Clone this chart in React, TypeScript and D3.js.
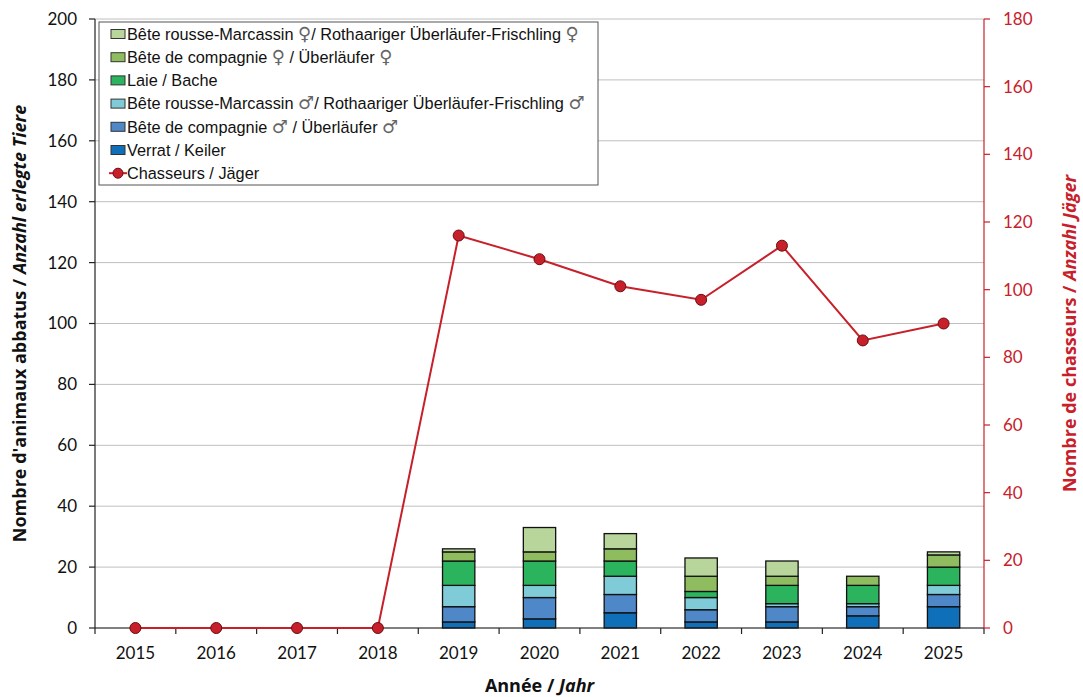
import React from "react";
import * as d3 from "d3";

const years = ["2015","2016","2017","2018","2019","2020","2021","2022","2023","2024","2025"];
const verrat =        [0,0,0,0,2,3,5,2,2,4,7];
const compagnieM =    [0,0,0,0,5,7,6,4,5,3,4];
const rousseM =       [0,0,0,0,7,4,6,4,1,1,3];
const laie =          [0,0,0,0,8,8,5,2,6,6,6];
const compagnieF =    [0,0,0,0,3,3,4,5,3,3,4];
const rousseF =       [0,0,0,0,1,8,5,6,5,0,1];
const chasseurs =     [0,0,0,0,116,109,101,97,113,85,90];

const seriesNames = [
  "Verrat / Keiler",
  "Bête de compagnie ♂ / Überläufer ♂",
  "Bête rousse-Marcassin ♂/ Rothaariger Überläufer-Frischling ♂",
  "Laie / Bache",
  "Bête de compagnie ♀ / Überläufer ♀",
  "Bête rousse-Marcassin ♀/ Rothaariger Überläufer-Frischling ♀",
];
const seriesColors = ["#0F6FB8", "#4F88C8", "#80CBD8", "#2BB35E", "#8FBC5F", "#B8D69B"];
const lineName = "Chasseurs / Jäger";
const leftTicks = [0,20,40,60,80,100,120,140,160,180,200];
const rightTicks = [0,20,40,60,80,100,120,140,160,180];

const W = 1083, H = 697;
const M = { left: 95, right: 984, top: 19, bottom: 628 };
const RED = "#C8202A";

function LegendLabel({ text, font }: { text: string; font: string }) {
  const parts = text.split(/([♀♂])/);
  return (
    <>
      {parts.map((p, i) =>
        p === "♀" || p === "♂" ? (
          <tspan key={i} fontFamily="'DejaVu Sans'" fontSize={18} fill="#666">{p + "\uFE0E"}</tspan>
        ) : (
          <tspan key={i} fontFamily={font}>{p}</tspan>
        )
      )}
    </>
  );
}

export default function App() {
  const x = d3.scaleBand().domain(years).range([M.left, M.right]).paddingInner(0).paddingOuter(0);
  const yL = d3.scaleLinear().domain([0, 200]).range([M.bottom, M.top]);
  const yR = d3.scaleLinear().domain([0, 180]).range([M.bottom, M.top]);
  const allSeries = [verrat, compagnieM, rousseM, laie, compagnieF, rousseF];
  const table = years.map((y, i) => {
    const o: any = { year: y };
    allSeries.forEach((s, k) => (o["s" + k] = s[i]));
    return o;
  });
  const stack = d3.stack().keys(allSeries.map((_, k) => "s" + k))(table as any);
  const bw = x.bandwidth() * 0.4;
  const cx = (y: string) => (x(y) as number) + x.bandwidth() / 2;
  const line = d3.line<number>().x((_, i) => cx(years[i])).y((d) => yR(d));

  const legendItems = [...seriesNames.map((n, k) => ({ n, c: seriesColors[k] })).reverse()];
  const tickFont = "Lato, 'Open Sans', sans-serif";
  const titleFont = "'Open Sans', Lato, sans-serif";
  const legFont = "'Liberation Sans', Arial, sans-serif";

  return (
    <svg width={W} height={H} style={{ position: "absolute", left: 0, top: 0, background: "#fff" }}>
      {leftTicks.map((t) => (
        <line key={"g" + t} x1={M.left} x2={M.right} y1={yL(t)} y2={yL(t)} stroke="#BFBFBF" strokeWidth={1} />
      ))}
      {stack.map((layer, k) => (
        <g key={"l" + k}>
          {layer.map((d, i) =>
            d[1] - d[0] > 0 ? (
              <rect
                key={i}
                x={cx(years[i]) - bw / 2}
                y={yL(d[1])}
                width={bw}
                height={yL(d[0]) - yL(d[1])}
                fill={seriesColors[k]}
                stroke="#111"
                strokeWidth={1.3}
              />
            ) : null
          )}
        </g>
      ))}
      <line x1={M.left} x2={M.left} y1={M.top} y2={M.bottom} stroke="#222" strokeWidth={1.2} />
      {leftTicks.map((t) => (
        <g key={"lt" + t}>
          <line x1={M.left - 6} x2={M.left} y1={yL(t)} y2={yL(t)} stroke="#222" strokeWidth={1.2} />
          <text x={M.left - 18} y={yL(t)} dy="0.35em" textAnchor="end" fontFamily={tickFont} fontSize={17} fill="#111">{t}</text>
        </g>
      ))}
      <line x1={M.left} x2={M.right} y1={M.bottom} y2={M.bottom} stroke="#222" strokeWidth={1.2} />
      {years.map((y) => (
        <g key={"xt" + y}>
          <line x1={x(y) as number} x2={x(y) as number} y1={M.bottom} y2={M.bottom + 6} stroke="#222" strokeWidth={1.2} />
          <text x={cx(y)} y={M.bottom + 31} textAnchor="middle" fontFamily={tickFont} fontSize={17} fill="#111">{y}</text>
        </g>
      ))}
      <line x1={M.right} x2={M.right} y1={M.bottom} y2={M.bottom + 6} stroke="#222" strokeWidth={1.2} />
      <line x1={M.right} x2={M.right} y1={M.top} y2={M.bottom} stroke={RED} strokeWidth={1.2} />
      {rightTicks.map((t) => (
        <g key={"rt" + t}>
          <line x1={M.right} x2={M.right + 6} y1={yR(t)} y2={yR(t)} stroke={RED} strokeWidth={1.2} />
          <text x={M.right + 19} y={yR(t)} dy="0.35em" textAnchor="start" fontFamily={tickFont} fontSize={17} fill={RED}>{t}</text>
        </g>
      ))}
      <path d={line(chasseurs) || ""} fill="none" stroke={RED} strokeWidth={2} />
      {chasseurs.map((v, i) => (
        <circle key={"c" + i} cx={cx(years[i])} cy={yR(v)} r={5.5} fill={RED} stroke="#6A0D12" strokeWidth={1} />
      ))}
      <text transform={`translate(26,${(M.top + M.bottom) / 2}) rotate(-90)`} textAnchor="middle" fontFamily={titleFont} fontSize={18} fontWeight="bold" fill="#111">
        Nombre d'animaux abbatus / <tspan fontStyle="italic">Anzahl erlegte Tiere</tspan>
      </text>
      <text transform={`translate(1076,${(M.top + M.bottom) / 2 + 10}) rotate(-90)`} textAnchor="middle" fontFamily={titleFont} fontSize={18} fontWeight="bold" fill={RED}>
        Nombre de chasseurs / <tspan fontStyle="italic">Anzahl Jäger</tspan>
      </text>
      <text x={(M.left + M.right) / 2} y={692} textAnchor="middle" fontFamily={titleFont} fontSize={18} fontWeight="bold" fill="#111">
        Année / <tspan fontStyle="italic">Jahr</tspan>
      </text>
      <rect x={99} y={22} width={499} height={163} fill="#fff" stroke="#555" strokeWidth={1} />
      {legendItems.map((it, k) => {
        const yy = 34 + k * 23.2;
        return (
          <g key={"lg" + k}>
            <rect x={111} y={yy - 4.5} width={14} height={9} fill={it.c} stroke="#333" strokeWidth={1} />
            <text x={127} y={yy} dy="0.35em" fontFamily={legFont} fontSize={16.3} fill="#111">
              <LegendLabel text={it.n} font={legFont} />
            </text>
          </g>
        );
      })}
      {(() => {
        const yy = 34 + 6 * 23.2;
        return (
          <g>
            <line x1={109} x2={127} y1={yy} y2={yy} stroke={RED} strokeWidth={2} />
            <circle cx={118} cy={yy} r={5} fill={RED} stroke="#6A0D12" strokeWidth={1} />
            <text x={127} y={yy} dy="0.35em" fontFamily={legFont} fontSize={16.3} fill="#111">{lineName}</text>
          </g>
        );
      })()}
    </svg>
  );
}
